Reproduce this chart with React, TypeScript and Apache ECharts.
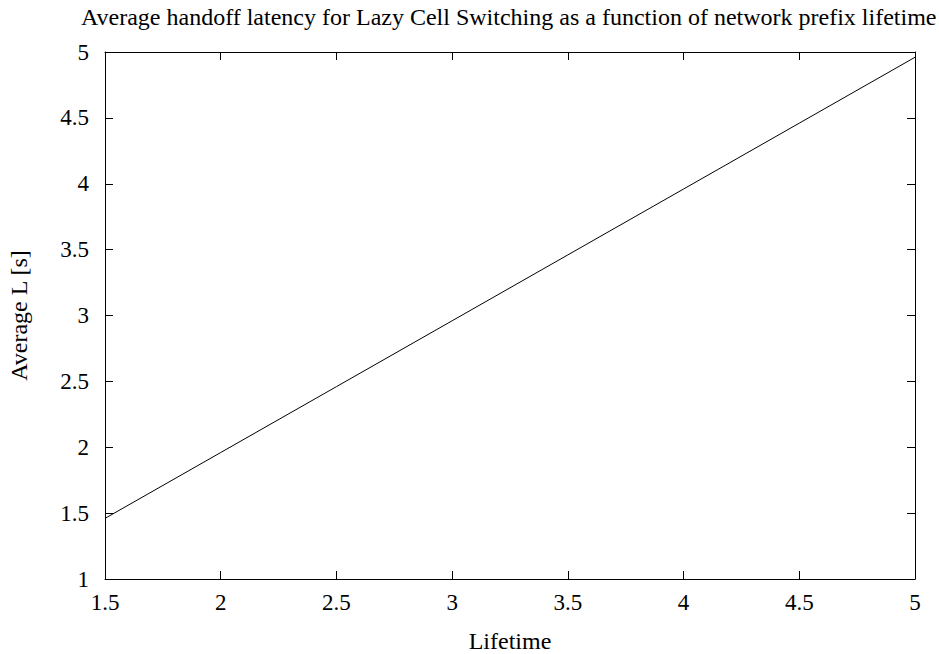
import React, { useEffect, useRef } from "react";
import * as echarts from "echarts";

const lifetime = [1.5, 2, 2.5, 3, 3.5, 4, 4.5, 5];
const avgLatency = [1.46, 1.96, 2.46, 2.96, 3.46, 3.96, 4.46, 4.96];
const titleText = "Average handoff latency for Lazy Cell Switching as a function of network prefix lifetime";
const xName = "Lifetime";
const yName = "Average L [s]";

const FONT = "Liberation Serif";

export default function App() {
  const ref = useRef<HTMLDivElement>(null);
  useEffect(() => {
    if (!ref.current) return;
    const chart = echarts.init(ref.current, null, { renderer: "svg" });
    const axisLine = { show: true, onZero: false, lineStyle: { color: "#000", width: 1 } };
    const tick = { show: true, inside: true, length: 8, lineStyle: { color: "#000", width: 1 } };
    const label = { color: "#000", fontFamily: FONT, fontSize: 23 };
    chart.setOption({
      animation: false,
      backgroundColor: "#fff",
      title: {
        text: titleText,
        left: 76,
        top: 0,
        textStyle: { color: "#000", fontFamily: FONT, fontSize: 24, fontWeight: "normal" },
      },
      grid: { left: 105, right: 24, top: 52, bottom: 75, containLabel: false, outerBoundsMode: "none" },
      xAxis: [
        {
          type: "value",
          min: 1.5,
          max: 5,
          interval: 0.5,
          position: "bottom",
          axisLine,
          axisTick: tick,
          axisLabel: { ...label, margin: 12 },
          splitLine: { show: false },
          name: xName,
          nameLocation: "middle",
          nameGap: 50,
          nameTextStyle: { color: "#000", fontFamily: FONT, fontSize: 24 },
        },
        {
          type: "value",
          min: 1.5,
          max: 5,
          interval: 0.5,
          position: "top",
          axisLine,
          axisTick: tick,
          axisLabel: { show: false },
          splitLine: { show: false },
        },
      ],
      yAxis: [
        {
          type: "value",
          min: 1,
          max: 5,
          interval: 0.5,
          position: "left",
          axisLine,
          axisTick: tick,
          axisLabel: { ...label, margin: 16 },
          splitLine: { show: false },
          name: yName,
          nameLocation: "middle",
          nameGap: 74,
          nameRotate: 90,
          nameTextStyle: { color: "#000", fontFamily: FONT, fontSize: 24 },
        },
        {
          type: "value",
          min: 1,
          max: 5,
          interval: 0.5,
          position: "right",
          axisLine,
          axisTick: tick,
          axisLabel: { show: false },
          splitLine: { show: false },
        },
      ],
      series: [
        {
          type: "line",
          data: lifetime.map((x, i) => [x, avgLatency[i]]),
          showSymbol: false,
          lineStyle: { color: "#000", width: 1 },
          xAxisIndex: 0,
          yAxisIndex: 0,
        },
      ],
    });
    return () => chart.dispose();
  }, []);
  return <div ref={ref} style={{ width: 939, height: 654, position: "absolute", left: 0, top: 0 }} />;
}
